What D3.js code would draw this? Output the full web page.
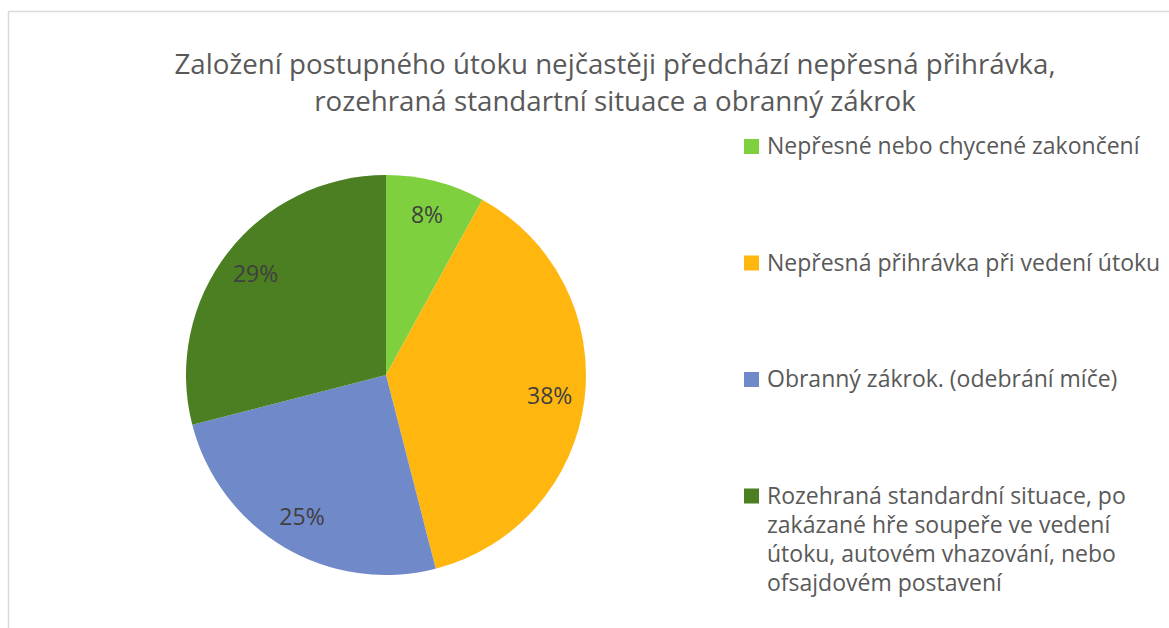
<!DOCTYPE html>
<html><head><meta charset="utf-8">
<script src="https://cdn.jsdelivr.net/npm/d3@7"></script>
<style>body{margin:0;background:#fff}svg{display:block}text{font-family:"Open Sans","Noto Sans",sans-serif}</style>
</head><body>
<svg id="c" width="1169" height="628"></svg>
<script>
const titleLines = ["Založení postupného útoku nejčastěji předchází nepřesná přihrávka,", "rozehraná standartní situace a obranný zákrok"];
const categories = ["Nepřesné nebo chycené zakončení", "Nepřesná přihrávka při vedení útoku", "Obranný zákrok. (odebrání míče)", "Rozehraná standardní situace, po zakázané hře soupeře ve vedení útoku, autovém vhazování, nebo ofsajdovém postavení"];
const legendLines = [["Nepřesné nebo chycené zakončení"], ["Nepřesná přihrávka při vedení útoku"], ["Obranný zákrok. (odebrání míče)"], ["Rozehraná standardní situace, po", "zakázané hře soupeře ve vedení", "útoku, autovém vhazování, nebo", "ofsajdovém postavení"]];
const values = [8, 38, 25, 29];
const colors = ["#7ed03f", "#ffb70f", "#7089c8", "#4b7f21"];

const svg = d3.select("#c");
// frame
svg.append("rect").attr("x", 8.5).attr("y", 11.5).attr("width", 1200).attr("height", 700)
  .attr("fill", "none").attr("stroke", "#d9d9d9").attr("stroke-width", 1.5);

// title
const title = svg.append("text").attr("text-anchor", "middle").attr("fill", "#595959").style("font-size", "27.7px");
titleLines.forEach((t, i) => title.append("tspan").attr("x", 615).attr("y", 74 + i * 37).text(t));

const cx = 386, cy = 375, R = 200;
const color = d3.scaleOrdinal().domain(categories).range(colors);
const pie = d3.pie().sort(null).value(d => d.v);
const data = categories.map((c, i) => ({c, v: values[i]}));
const arcs = pie(data);
const arc = d3.arc().innerRadius(0).outerRadius(R);
const labelArc = d3.arc().innerRadius(165).outerRadius(165);
const g = svg.append("g").attr("transform", `translate(${cx},${cy})`);
g.selectAll("path").data(arcs).join("path").attr("d", arc).attr("fill", d => color(d.data.c));
g.selectAll("text").data(arcs).join("text")
  .attr("transform", d => `translate(${labelArc.centroid(d)})`)
  .attr("text-anchor", "middle").attr("dy", "0.35em")
  .attr("fill", "#404040").style("font-size", "23px")
  .text(d => d3.format(".0%")(d.data.v / 100));

// legend
const leg = svg.append("g");
legendLines.forEach((lines, i) => {
  const y0 = 147 + i * 116.5;
  leg.append("rect").attr("x", 744).attr("y", y0 - 8).attr("width", 15).attr("height", 15).attr("fill", colors[i]);
  const t = leg.append("text").attr("fill", "#595959").style("font-size", "23px");
  lines.forEach((l, j) => t.append("tspan").attr("x", 767).attr("y", y0 + 7 + j * 29).text(l));
});
</script>
</body></html>
